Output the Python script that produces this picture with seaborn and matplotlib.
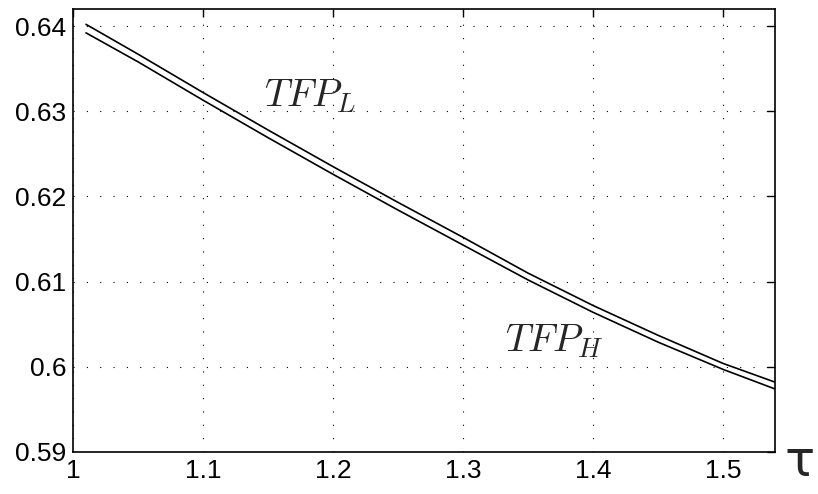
import numpy as np
import pandas as pd
import matplotlib
matplotlib.use('Agg')
import matplotlib.pyplot as plt
import seaborn as sns

# Values
tau = [1.01, 1.05, 1.10, 1.15, 1.20, 1.25, 1.30, 1.35, 1.40, 1.45, 1.50, 1.54]
tfp_l = [0.6402, 0.6367, 0.6322, 0.6278, 0.6235, 0.6193, 0.6152, 0.6110, 0.6072, 0.6037, 0.6004, 0.5982]
tfp_h = [0.6392, 0.6358, 0.6313, 0.6269, 0.6226, 0.6184, 0.6143, 0.6102, 0.6064, 0.6029, 0.5997, 0.5974]
x_ticks = [1, 1.1, 1.2, 1.3, 1.4, 1.5]
x_tick_labels = ['1', '1.1', '1.2', '1.3', '1.4', '1.5']
y_ticks = [0.59, 0.60, 0.61, 0.62, 0.63, 0.64]
y_tick_labels = ['0.59', '0.6', '0.61', '0.62', '0.63', '0.64']

sns.set_style('white')
plt.rcParams['font.family'] = ['Liberation Sans', 'DejaVu Sans']
plt.rcParams['mathtext.fontset'] = 'cm'

df = pd.DataFrame({'tau': tau + tau,
                   'tfp': tfp_l + tfp_h,
                   'series': ['L'] * len(tau) + ['H'] * len(tau)})

fig = plt.figure(figsize=(8.18, 4.94), dpi=100)
ax = fig.add_axes([73 / 818, 1 - 452 / 494, 702 / 818, 443 / 494])

sns.lineplot(data=df, x='tau', y='tfp', units='series', estimator=None,
             color='black', linewidth=1.2, ax=ax)

ax.set_xlim(1, 1.54)
ax.set_ylim(0.59, 0.642)
ax.set_xticks(x_ticks)
ax.set_xticklabels(x_tick_labels)
ax.set_yticks(y_ticks)
ax.set_yticklabels(y_tick_labels)
ax.set_xlabel('')
ax.set_ylabel('')

# MATLAB-like look: sparse dotted grid, inward ticks on all sides
ax.grid(True, color='black', linestyle=(0, (1, 11)), linewidth=0.8)
ax.tick_params(direction='in', length=6, width=1, top=True, right=True,
               labelsize=19, colors='black', pad=5)
for s in ax.spines.values():
    s.set_color('black')
    s.set_linewidth(1.2)

ax.text(1.147, 0.6318, r'$TFP_L$', fontsize=28, va='center', ha='left')
ax.text(1.332, 0.6030, r'$TFP_H$', fontsize=28, va='center', ha='left')
fig.text(0.978, 0.065, '\u03c4', fontsize=36, ha='center', va='center',
         family=['DejaVu Sans'])

fig.savefig('out.png', dpi=100)
